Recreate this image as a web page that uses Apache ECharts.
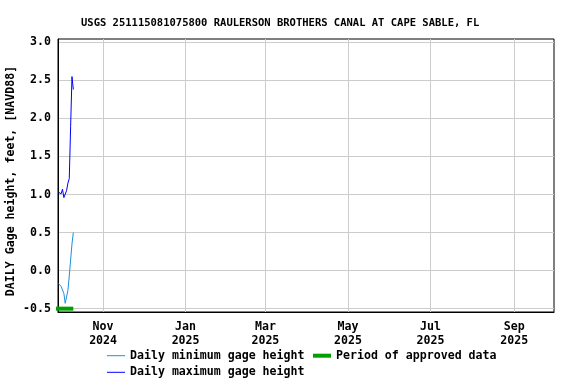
<!DOCTYPE html>
<html>
<head>
<meta charset="utf-8">
<script src="https://cdn.jsdelivr.net/npm/echarts@6/dist/echarts.min.js"></script>
<style>
html,body{margin:0;padding:0;background:#fff;}
#chart{width:576px;height:384px;}
</style>
</head>
<body>
<div id="chart"></div>
<script>
// ---- data ----
var titleText = 'USGS 251115081075800 RAULERSON BROTHERS CANAL AT CAPE SABLE, FL';
var yAxisName = 'DAILY Gage height, feet, [NAVD88]';
var dates = ['2024-09-29','2024-09-30','2024-10-01','2024-10-02','2024-10-03','2024-10-04',
             '2024-10-05','2024-10-06','2024-10-07','2024-10-08','2024-10-09','2024-10-10'];
var dailyMin = [-0.17,-0.15,-0.21,-0.22,-0.30,-0.43,-0.42,-0.26,-0.07,0.14,0.35,0.50];
var dailyMax = [1.03,1.05,1.01,1.07,0.96,0.97,1.05,1.15,1.21,1.89,2.55,2.38];
var approvedPeriod = ['2024-09-27','2024-10-10'];
var approvedLevel = -0.5;
var xTickDates = ['2024-11-01','2025-01-01','2025-03-01','2025-05-01','2025-07-01','2025-09-01'];
var yTicks = [-0.5,0.0,0.5,1.0,1.5,2.0,2.5,3.0];
var xRange = ['2024-09-28T16:00','2025-09-30T09:00'];
var yRange = [-0.544, 3.044];
var monthNames = ['Jan','Feb','Mar','Apr','May','Jun','Jul','Aug','Sep','Oct','Nov','Dec'];

function toTs(s){
  var p = s.split('T');
  var d = p[0].split('-').map(Number);
  var h = 0, m = 0;
  if (p[1]) { var t = p[1].split(':').map(Number); h = t[0]; m = t[1] || 0; }
  return new Date(d[0], d[1]-1, d[2], h, m).getTime();
}

var FONT = 'DejaVu Sans Mono';
var minData = dates.map(function(d,i){ return [toTs(d), dailyMin[i]]; });
var maxData = dates.map(function(d,i){ return [toTs(d), dailyMax[i]]; });
var apprData = approvedPeriod.map(function(d){ return [toTs(d), approvedLevel]; });
var xTicks = xTickDates.map(toTs);
var legendText = {fontFamily: FONT, fontWeight: 'bold', fontSize: 11.6, color: '#000', lineHeight: 14};

var chart = echarts.init(document.getElementById('chart'), null, {renderer:'canvas'});
chart.setOption({
  animation: false,
  backgroundColor: '#fff',
  title: {
    text: titleText,
    left: 76, top: 13,
    textStyle: {fontFamily: FONT, fontWeight: 'bold', fontSize: 10.5, color: '#000'}
  },
  grid: {left: 58, right: 22, top: 39, bottom: 72, show: true, borderColor: '#000', borderWidth: 1,
         containLabel: false, outerBoundsMode: 'none'},
  xAxis: {
    type: 'value',
    min: toTs(xRange[0]), max: toTs(xRange[1]),
    axisLine: {show: true, onZero: false, lineStyle: {color: '#000', width: 1}},
    axisTick: {show: false, customValues: xTicks},
    splitLine: {show: true, lineStyle: {color: '#cccccc', width: 1}},
    axisLabel: {
      customValues: xTicks,
      margin: 8,
      fontFamily: FONT, fontWeight: 'bold', fontSize: 11.6, color: '#000', lineHeight: 14,
      formatter: function(v){ var d = new Date(v); return monthNames[d.getMonth()] + '\n' + d.getFullYear(); }
    }
  },
  yAxis: {
    type: 'value',
    min: yRange[0], max: yRange[1],
    name: yAxisName,
    nameLocation: 'middle',
    nameGap: 41,
    nameMoveOverlap: false,
    nameTextStyle: {fontFamily: FONT, fontWeight: 'bold', fontSize: 11.6, color: '#000', padding: [0, 11, 0, 0]},
    axisLine: {show: true, onZero: false, lineStyle: {color: '#000', width: 1}},
    axisTick: {show: false, customValues: yTicks},
    splitLine: {show: true, lineStyle: {color: '#cccccc', width: 1}},
    axisLabel: {
      customValues: yTicks,
      margin: 7,
      fontFamily: FONT, fontWeight: 'bold', fontSize: 11.6, color: '#000',
      formatter: function(v){ return v.toFixed(1); }
    }
  },
  legend: [{
    left: 107, top: 348.7, orient: 'vertical',
    icon: 'rect', itemWidth: 18, itemHeight: 1, itemGap: 2.6,
    data: ['Daily minimum gage height','Daily maximum gage height'],
    textStyle: legendText,
    padding: 0
  },{
    left: 313, top: 348.7, orient: 'vertical',
    icon: 'rect', itemWidth: 18, itemHeight: 4, itemGap: 2.6,
    data: ['Period of approved data'],
    textStyle: legendText,
    padding: 0
  }],
  series: [{
    name: 'Daily minimum gage height', type: 'line', data: minData,
    symbol: 'none', color: '#1e8fdc', lineStyle: {width: 1, color: '#1e8fdc'}
  },{
    name: 'Daily maximum gage height', type: 'line', data: maxData,
    symbol: 'none', color: '#0000ff', lineStyle: {width: 1, color: '#0000ff'}
  },{
    name: 'Period of approved data', type: 'line', data: apprData,
    symbol: 'none', color: '#00a000', clip: false, lineStyle: {width: 4, color: '#00a000', cap: 'butt'}
  }]
});
</script>
</body>
</html>
